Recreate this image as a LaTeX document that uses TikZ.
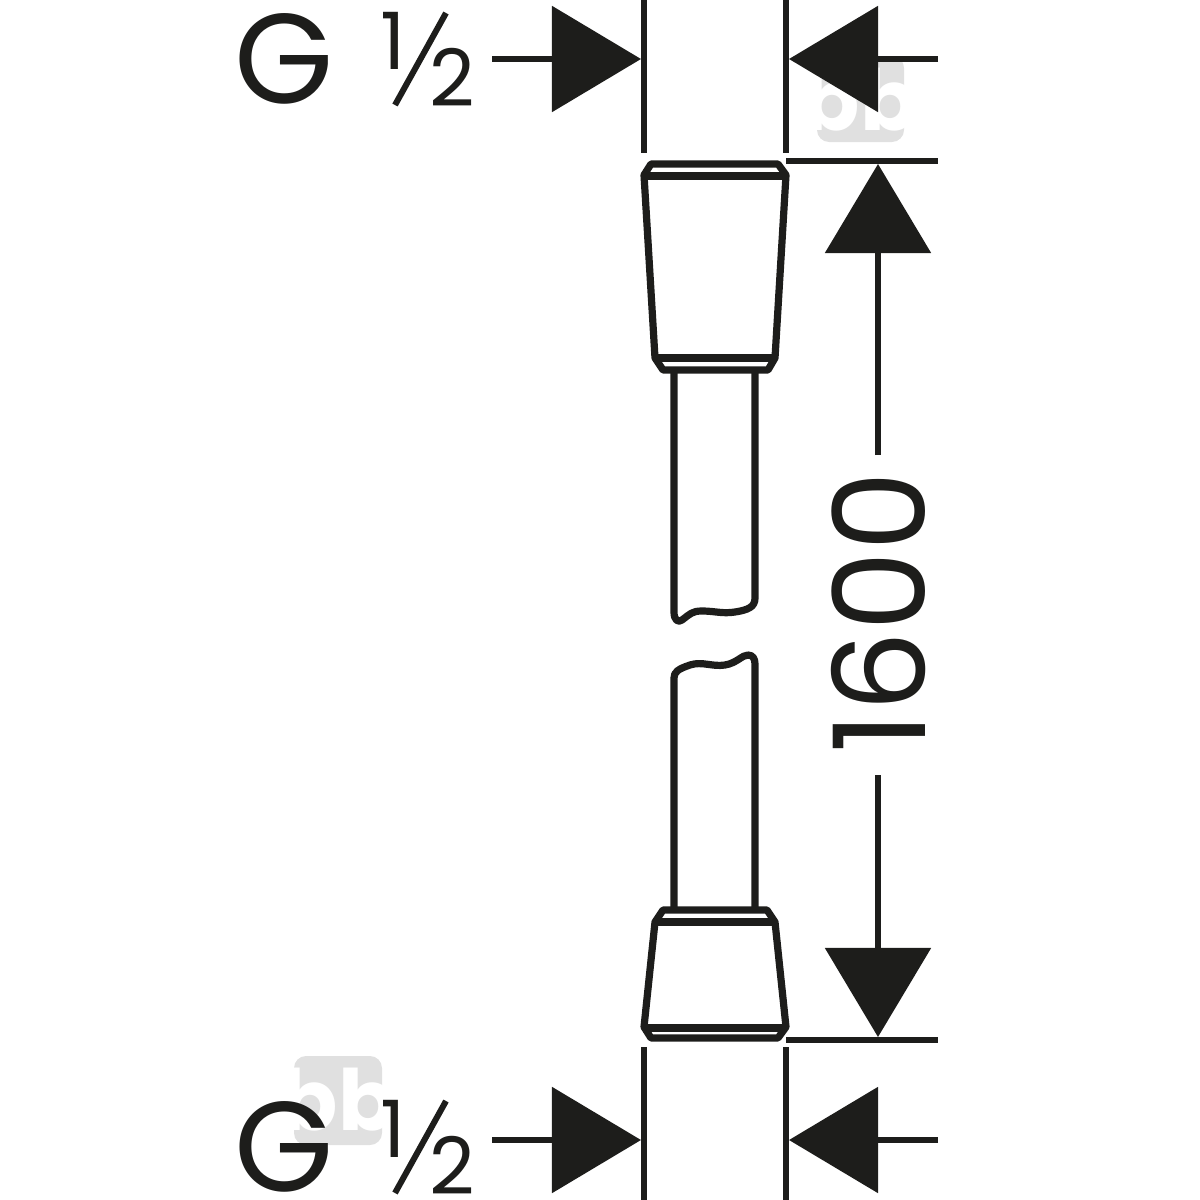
\documentclass[tikz,border=0pt]{standalone}
\usepackage{fontspec}
\setmainfont{Poppins}
\usetikzlibrary{arrows.meta}
\definecolor{ink}{HTML}{1D1D1B}
\tikzstyle{part}=[line width=.072cm, draw=ink, line join=round]
\tikzstyle{dimline}=[line width=.055cm, draw=ink, -{Triangle[length=.89cm,width=1.05cm]}]
\tikzstyle{extline}=[line width=.06cm, draw=ink]
\tikzstyle{bigtext}=[text=ink, inner sep=0pt, font=\fontsize{36.3}{40}\selectfont]
\tikzstyle{smalltext}=[text=ink, inner sep=0pt, font=\fontsize{22.5}{25}\selectfont]
\tikzstyle{stamp}=[fill=black!12, rounded corners=.12cm]
\tikzstyle{stampb}=[text=white, inner sep=0pt, font=\fontsize{24}{26}\selectfont\bfseries]

\begin{document}
\begin{tikzpicture}[x=.01cm, y=-.01cm]
      \useasboundingbox (0,0) rectangle (1200,1200);

      % faint stamps
      \fill[stamp] (817,56) rectangle (904,142);
      \node[stampb] (stamptop) at (860,100) {bb};
      \fill[stamp] (294,1056) rectangle (382,1145);
      \node[stampb] (stampbot) at (338,1100) {bb};

      % labels on the left, rows at the two ends
      \foreach \y/\n in {59/top, 1147/bot}{
        \node[bigtext] (g\n) at (284,\y) {G};
        \node[smalltext] (one\n) at (393,\y-18) {1};
        \node[smalltext] (two\n) at (452,\y+18) {2};
        \draw[extline] (395,\y+46) -- (446,\y-46);
      }

      % end points of the dimension lines
      \foreach \y/\n in {59/top, 1140/bot}{
        \coordinate (a\n) at (492,\y);
        \coordinate (b\n) at (641,\y);
        \coordinate (c\n) at (938,\y);
        \coordinate (d\n) at (789,\y);
        \draw[dimline] (a\n) -- (b\n);
        \draw[dimline] (c\n) -- (d\n);
      }

      \foreach \x in {644, 786}{
        \draw[extline] (\x,0) -- (\x,153);
        \draw[extline] (\x,1047) -- (\x,1200);
      }
      \draw[extline] (786,161) -- (938,161);
      \draw[extline] (786,1040) -- (938,1040);

      % overall length
      \node[bigtext, rotate=90] (len) at (879,612) {1600};
      \coordinate (upend) at (878,455);
      \coordinate (dnend) at (878,775);
      \coordinate (uptip) at (878,164);
      \coordinate (dntip) at (878,1037);
      \draw[dimline] (upend) -- (uptip);
      \draw[dimline] (dnend) -- (dntip);

      % upper fitting
      \draw[part] (651,164) -- (778,164) -- (786,175) -- (775,358) -- (768,370)
          -- (663,370) -- (655,358) -- (644,175) -- cycle;
      \draw[part] (644,176) -- (785,176);
      \draw[part] (655,358) -- (775,358);

      % lower fitting
      \draw[part] (663,910) -- (767,910) -- (775,922) -- (786,1027) -- (778,1038)
          -- (651,1038) -- (644,1027) -- (655,922) -- cycle;
      \draw[part] (655,922) -- (775,922);
      \draw[part, line width=.08cm] (644,1028) -- (786,1028);

      % hose with the break
      \draw[part] (674,370) -- (674,612) .. controls (674,620) and (678,623) .. (682,620)
          .. controls (690,614) and (692,611) .. (702,611)
          .. controls (715,611) and (722,614) .. (735,612)
          .. controls (748,610) and (755,607) .. (755,598) -- (755,370);
      \draw[part] (674,910) -- (674,678) .. controls (674,672) and (678,669) .. (690,665)
          .. controls (702,661) and (712,667) .. (725,665)
          .. controls (737,663) and (742,655) .. (748,655)
          .. controls (753,655) and (755,659) .. (755,664) -- (755,910);
\end{tikzpicture}
\end{document}
